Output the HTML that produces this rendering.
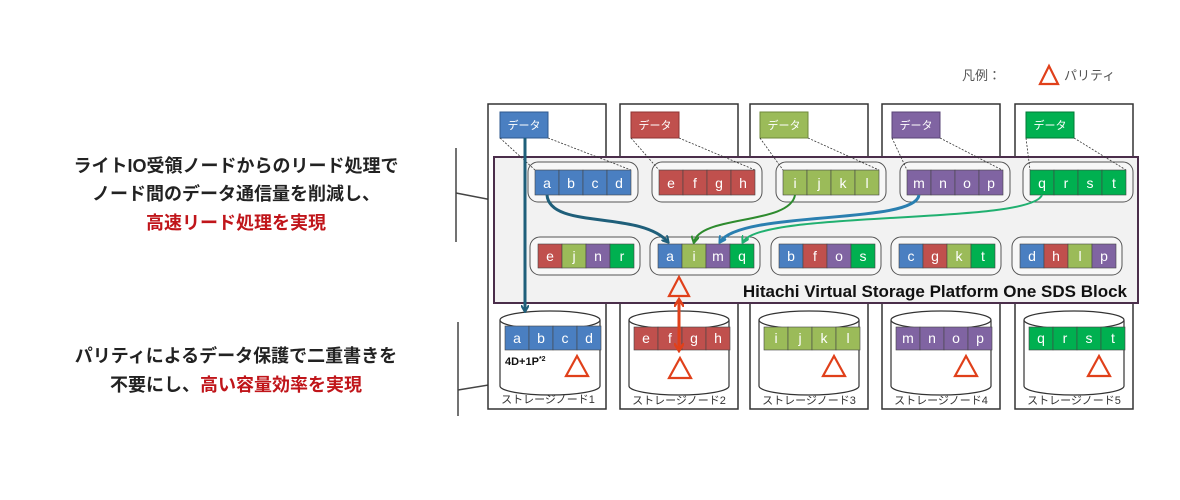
<!DOCTYPE html>
<html><head><meta charset="utf-8"><style>
body{margin:0;background:#fff}
svg{display:block}
text{font-family:"Liberation Sans","Noto Sans CJK JP",sans-serif}
</style></head><body>
<svg width="1180" height="500" viewBox="0 0 1180 500" xmlns="http://www.w3.org/2000/svg">
<defs>
<marker id="ab" markerWidth="8" markerHeight="8" refX="6" refY="4" orient="auto" markerUnits="userSpaceOnUse"><path d="M0,0 L7,4 L0,8" fill="none" stroke="#1f5f7a" stroke-width="2"/></marker>
<marker id="ag" markerWidth="8" markerHeight="8" refX="6" refY="4" orient="auto" markerUnits="userSpaceOnUse"><path d="M0,0 L7,4 L0,8" fill="none" stroke="#2e8b2e" stroke-width="2"/></marker>
<marker id="am" markerWidth="8" markerHeight="8" refX="6" refY="4" orient="auto" markerUnits="userSpaceOnUse"><path d="M0,0 L7,4 L0,8" fill="none" stroke="#2a7fb0" stroke-width="2"/></marker>
<marker id="aq" markerWidth="8" markerHeight="8" refX="6" refY="4" orient="auto" markerUnits="userSpaceOnUse"><path d="M0,0 L7,4 L0,8" fill="none" stroke="#20b070" stroke-width="2"/></marker>
<marker id="ar" markerWidth="10" markerHeight="10" refX="7" refY="5" orient="auto-start-reverse" markerUnits="userSpaceOnUse"><path d="M0,0 L8,5 L0,10" fill="none" stroke="#e0401a" stroke-width="2.5"/></marker>
</defs>

<!-- legend -->
<text x="962" y="80" font-size="13" fill="#555">凡例：</text>
<path d="M1049,66 L1040,84 L1058,84 Z" fill="none" stroke="#e0401a" stroke-width="2.2"/>
<text x="1064" y="80" font-size="13" fill="#555">パリティ</text>

<!-- left texts -->
<g font-size="18" font-weight="bold" text-anchor="middle" fill="#222">
<text x="236" y="172">ライトIO受領ノードからのリード処理で</text>
<text x="236" y="200">ノード間のデータ通信量を削減し、</text>
<text x="236" y="229" fill="#c0151a">高速リード処理を実現</text>
<text x="236" y="362">パリティによるデータ保護で二重書きを</text>
<text x="236" y="391">不要にし、<tspan fill="#c0151a">高い容量効率を実現</tspan></text>
</g>
<g stroke="#444" stroke-width="1.5">
<line x1="456" y1="148" x2="456" y2="242"/>
<line x1="456" y1="193" x2="523" y2="206"/>
<line x1="458" y1="322" x2="458" y2="416"/>
<line x1="458" y1="390" x2="556" y2="374"/>
</g>

<!-- node frames -->
<g fill="#fff" stroke="#333" stroke-width="1.5">
<rect x="488" y="104" width="118" height="305"/>
<rect x="620" y="104" width="118" height="305"/>
<rect x="750" y="104" width="118" height="305"/>
<rect x="882" y="104" width="118" height="305"/>
<rect x="1015" y="104" width="118" height="305"/>
</g>

<!-- data boxes -->
<g font-size="11" fill="#fff" text-anchor="middle">
<rect x="500" y="112" width="48" height="26" fill="#4a7fc1" stroke="#2f5a8f"/><text x="524" y="129">データ</text>
<rect x="631" y="112" width="48" height="26" fill="#c0504d" stroke="#8f3533"/><text x="655" y="129">データ</text>
<rect x="760" y="112" width="48" height="26" fill="#9bbb59" stroke="#6f8a3a"/><text x="784" y="129">データ</text>
<rect x="892" y="112" width="48" height="26" fill="#8064a2" stroke="#5a4577"/><text x="916" y="129">データ</text>
<rect x="1026" y="112" width="48" height="26" fill="#00b050" stroke="#007a36"/><text x="1050" y="129">データ</text>
</g>

<!-- SDS block -->
<rect x="494" y="157" width="644" height="146" fill="#f2f2f2" stroke="#4b2e4b" stroke-width="2"/>
<text x="1127" y="297" font-size="17" font-weight="bold" text-anchor="end" fill="#111">Hitachi Virtual Storage Platform One SDS Block</text>

<!-- groups -->
<g fill="#f7f7f7" stroke="#555" stroke-width="1">
<rect x="528" y="162" width="110" height="40" rx="10"/>
<rect x="652" y="162" width="110" height="40" rx="10"/>
<rect x="776" y="162" width="110" height="40" rx="10"/>
<rect x="900" y="162" width="110" height="40" rx="10"/>
<rect x="1023" y="162" width="110" height="40" rx="10"/>
<rect x="530" y="237" width="110" height="38" rx="10"/>
<rect x="650" y="237" width="110" height="38" rx="10"/>
<rect x="771" y="237" width="110" height="38" rx="10"/>
<rect x="891" y="237" width="110" height="38" rx="10"/>
<rect x="1012" y="237" width="110" height="38" rx="10"/>
</g>

<!-- dashed lines data->groups -->
<g stroke="#333" stroke-width="0.8" stroke-dasharray="2,1.5" fill="none">
<line x1="500" y1="138" x2="535" y2="170"/><line x1="548" y1="138" x2="631" y2="170"/>
<line x1="631" y1="138" x2="659" y2="170"/><line x1="679" y1="138" x2="755" y2="170"/>
<line x1="760" y1="138" x2="783" y2="170"/><line x1="808" y1="138" x2="879" y2="170"/>
<line x1="892" y1="138" x2="907" y2="170"/><line x1="940" y1="138" x2="1002" y2="170"/>
<line x1="1026" y1="138" x2="1030" y2="170"/><line x1="1074" y1="138" x2="1126" y2="170"/>
</g>

<!-- cells -->
<g font-size="14" fill="#fff" text-anchor="middle" stroke="#444" stroke-width="0.6">
<!-- top row -->
<g>
<rect x="535" y="170" width="24" height="25" fill="#4a7fc1"/><rect x="559" y="170" width="24" height="25" fill="#4a7fc1"/><rect x="583" y="170" width="24" height="25" fill="#4a7fc1"/><rect x="607" y="170" width="24" height="25" fill="#4a7fc1"/>
<rect x="659" y="170" width="24" height="25" fill="#c0504d"/><rect x="683" y="170" width="24" height="25" fill="#c0504d"/><rect x="707" y="170" width="24" height="25" fill="#c0504d"/><rect x="731" y="170" width="24" height="25" fill="#c0504d"/>
<rect x="783" y="170" width="24" height="25" fill="#9bbb59"/><rect x="807" y="170" width="24" height="25" fill="#9bbb59"/><rect x="831" y="170" width="24" height="25" fill="#9bbb59"/><rect x="855" y="170" width="24" height="25" fill="#9bbb59"/>
<rect x="907" y="170" width="24" height="25" fill="#8064a2"/><rect x="931" y="170" width="24" height="25" fill="#8064a2"/><rect x="955" y="170" width="24" height="25" fill="#8064a2"/><rect x="979" y="170" width="24" height="25" fill="#8064a2"/>
<rect x="1030" y="170" width="24" height="25" fill="#00b050"/><rect x="1054" y="170" width="24" height="25" fill="#00b050"/><rect x="1078" y="170" width="24" height="25" fill="#00b050"/><rect x="1102" y="170" width="24" height="25" fill="#00b050"/>
</g>
<!-- bottom row -->
<g>
<rect x="538" y="244" width="24" height="24" fill="#c0504d"/><rect x="562" y="244" width="24" height="24" fill="#9bbb59"/><rect x="586" y="244" width="24" height="24" fill="#8064a2"/><rect x="610" y="244" width="24" height="24" fill="#00b050"/>
<rect x="658" y="244" width="24" height="24" fill="#4a7fc1"/><rect x="682" y="244" width="24" height="24" fill="#9bbb59"/><rect x="706" y="244" width="24" height="24" fill="#8064a2"/><rect x="730" y="244" width="24" height="24" fill="#00b050"/>
<rect x="779" y="244" width="24" height="24" fill="#4a7fc1"/><rect x="803" y="244" width="24" height="24" fill="#c0504d"/><rect x="827" y="244" width="24" height="24" fill="#8064a2"/><rect x="851" y="244" width="24" height="24" fill="#00b050"/>
<rect x="899" y="244" width="24" height="24" fill="#4a7fc1"/><rect x="923" y="244" width="24" height="24" fill="#c0504d"/><rect x="947" y="244" width="24" height="24" fill="#9bbb59"/><rect x="971" y="244" width="24" height="24" fill="#00b050"/>
<rect x="1020" y="244" width="24" height="24" fill="#4a7fc1"/><rect x="1044" y="244" width="24" height="24" fill="#c0504d"/><rect x="1068" y="244" width="24" height="24" fill="#9bbb59"/><rect x="1092" y="244" width="24" height="24" fill="#8064a2"/>
</g>
</g>
<g font-size="14" fill="#fff" text-anchor="middle">
<text x="547" y="188">a</text><text x="571" y="188">b</text><text x="595" y="188">c</text><text x="619" y="188">d</text>
<text x="671" y="188">e</text><text x="695" y="188">f</text><text x="719" y="188">g</text><text x="743" y="188">h</text>
<text x="795" y="188">i</text><text x="819" y="188">j</text><text x="843" y="188">k</text><text x="867" y="188">l</text>
<text x="919" y="188">m</text><text x="943" y="188">n</text><text x="967" y="188">o</text><text x="991" y="188">p</text>
<text x="1042" y="188">q</text><text x="1066" y="188">r</text><text x="1090" y="188">s</text><text x="1114" y="188">t</text>
<text x="550" y="261">e</text><text x="574" y="261">j</text><text x="598" y="261">n</text><text x="622" y="261">r</text>
<text x="670" y="261">a</text><text x="694" y="261">i</text><text x="718" y="261">m</text><text x="742" y="261">q</text>
<text x="791" y="261">b</text><text x="815" y="261">f</text><text x="839" y="261">o</text><text x="863" y="261">s</text>
<text x="911" y="261">c</text><text x="935" y="261">g</text><text x="959" y="261">k</text><text x="983" y="261">t</text>
<text x="1032" y="261">d</text><text x="1056" y="261">h</text><text x="1080" y="261">l</text><text x="1104" y="261">p</text>
</g>

<!-- parity in SDS -->
<path d="M679,277 L669,296 L689,296 Z" fill="none" stroke="#e0401a" stroke-width="2.2"/>

<!-- cylinders -->
<g fill="#fff" stroke="#333" stroke-width="1.2">
<path d="M500,320 L500,386 A50,9 0 0 0 600,386 L600,320"/><ellipse cx="550" cy="320" rx="50" ry="9"/>
<path d="M629,320 L629,386 A50,9 0 0 0 729,386 L729,320"/><ellipse cx="679" cy="320" rx="50" ry="9"/>
<path d="M759,320 L759,386 A50,9 0 0 0 859,386 L859,320"/><ellipse cx="809" cy="320" rx="50" ry="9"/>
<path d="M891,320 L891,386 A50,9 0 0 0 991,386 L991,320"/><ellipse cx="941" cy="320" rx="50" ry="9"/>
<path d="M1024,320 L1024,386 A50,9 0 0 0 1124,386 L1124,320"/><ellipse cx="1074" cy="320" rx="50" ry="9"/>
</g>
<g stroke="#444" stroke-width="0.6">
<rect x="505" y="326" width="24" height="24" fill="#4a7fc1"/><rect x="529" y="326" width="24" height="24" fill="#4a7fc1"/><rect x="553" y="326" width="24" height="24" fill="#4a7fc1"/><rect x="577" y="326" width="24" height="24" fill="#4a7fc1"/>
<rect x="634" y="327" width="24" height="23" fill="#c0504d"/><rect x="658" y="327" width="24" height="23" fill="#c0504d"/><rect x="682" y="327" width="24" height="23" fill="#c0504d"/><rect x="706" y="327" width="24" height="23" fill="#c0504d"/>
<rect x="764" y="327" width="24" height="23" fill="#9bbb59"/><rect x="788" y="327" width="24" height="23" fill="#9bbb59"/><rect x="812" y="327" width="24" height="23" fill="#9bbb59"/><rect x="836" y="327" width="24" height="23" fill="#9bbb59"/>
<rect x="896" y="327" width="24" height="23" fill="#8064a2"/><rect x="920" y="327" width="24" height="23" fill="#8064a2"/><rect x="944" y="327" width="24" height="23" fill="#8064a2"/><rect x="968" y="327" width="24" height="23" fill="#8064a2"/>
<rect x="1029" y="327" width="24" height="23" fill="#00b050"/><rect x="1053" y="327" width="24" height="23" fill="#00b050"/><rect x="1077" y="327" width="24" height="23" fill="#00b050"/><rect x="1101" y="327" width="24" height="23" fill="#00b050"/>
</g>
<g font-size="14" fill="#fff" text-anchor="middle">
<text x="517" y="343">a</text><text x="541" y="343">b</text><text x="565" y="343">c</text><text x="589" y="343">d</text>
<text x="646" y="343">e</text><text x="670" y="343">f</text><text x="694" y="343">g</text><text x="718" y="343">h</text>
<text x="776" y="343">i</text><text x="800" y="343">j</text><text x="824" y="343">k</text><text x="848" y="343">l</text>
<text x="908" y="343">m</text><text x="932" y="343">n</text><text x="956" y="343">o</text><text x="980" y="343">p</text>
<text x="1041" y="343">q</text><text x="1065" y="343">r</text><text x="1089" y="343">s</text><text x="1113" y="343">t</text>
</g>
<text x="505" y="365" font-size="11" font-weight="bold" fill="#111">4D+1P<tspan font-size="7" dy="-4">*2</tspan></text>
<g fill="none" stroke="#e0401a" stroke-width="2.2">
<path d="M577,356 L566,376 L588,376 Z"/>
<path d="M680,358 L669,378 L691,378 Z"/>
<path d="M834,356 L823,376 L845,376 Z"/>
<path d="M966,356 L955,376 L977,376 Z"/>
<path d="M1099,356 L1088,376 L1110,376 Z"/>
</g>
<g font-size="11" fill="#333" text-anchor="middle">
<text x="548" y="403">ストレージノード1</text>
<text x="679" y="404">ストレージノード2</text>
<text x="809" y="404">ストレージノード3</text>
<text x="941" y="404">ストレージノード4</text>
<text x="1074" y="404">ストレージノード5</text>
</g>

<!-- arrows -->
<line x1="525" y1="138" x2="525" y2="311" stroke="#1f5f7a" stroke-width="3" marker-end="url(#ab)"/>
<path d="M547,195 C550,230 640,210 668,242" fill="none" stroke="#1f5f7a" stroke-width="3" marker-end="url(#ab)"/>
<path d="M795,195 C790,225 700,215 694,242" fill="none" stroke="#2e8b2e" stroke-width="2" marker-end="url(#ag)"/>
<path d="M919,195 C915,225 740,210 720,242" fill="none" stroke="#2a7fb0" stroke-width="3" marker-end="url(#am)"/>
<path d="M1042,195 C1030,225 760,210 743,242" fill="none" stroke="#20b070" stroke-width="2" marker-end="url(#aq)"/>
<line x1="679" y1="300" x2="679" y2="350" stroke="#e0401a" stroke-width="3" marker-start="url(#ar)" marker-end="url(#ar)"/>
</svg>
</body></html>
